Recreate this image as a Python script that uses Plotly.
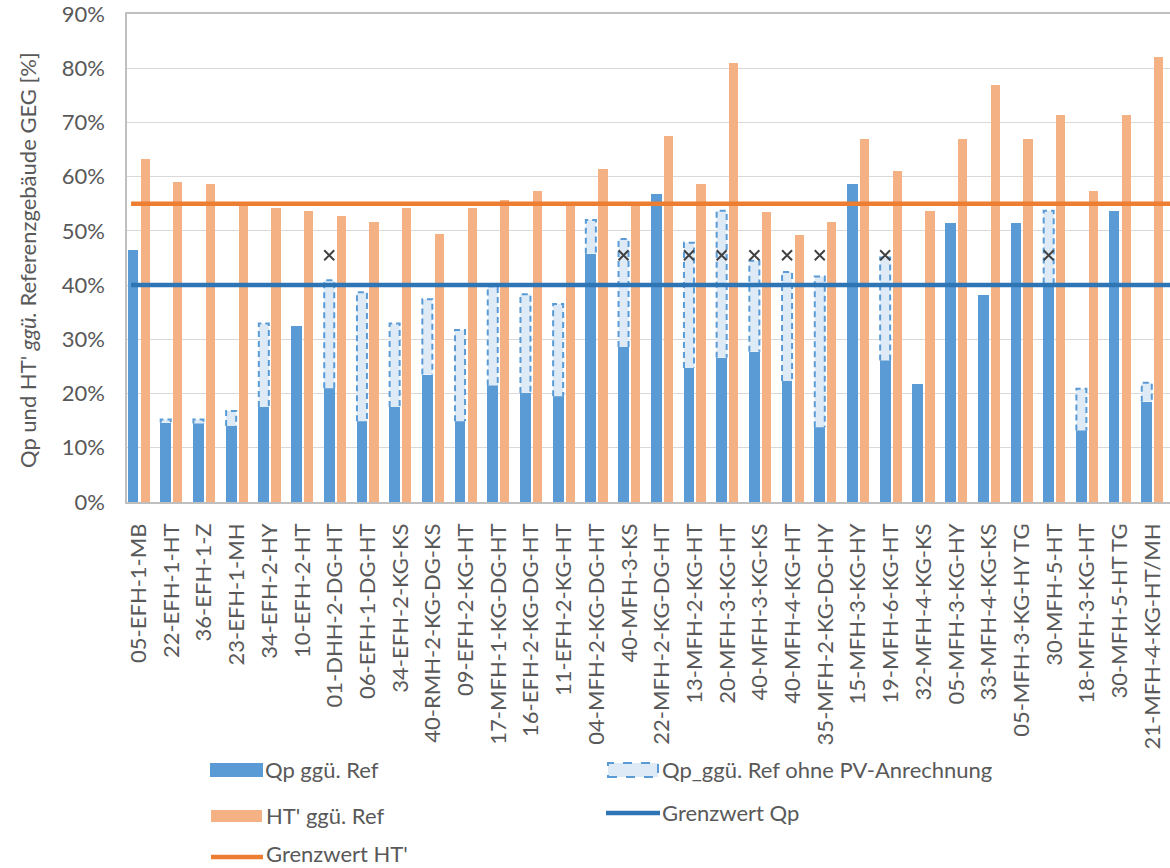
import plotly.graph_objects as go

# ---- data -------------------------------------------------------------
categories = [
    "05-EFH-1-MB", "22-EFH-1-HT", "36-EFH-1-Z", "23-EFH-1-MH", "34-EFH-2-HY",
    "10-EFH-2-HT", "01-DHH-2-DG-HT", "06-EFH-1-DG-HT", "34-EFH-2-KG-KS",
    "40-RMH-2-KG-DG-KS", "09-EFH-2-KG-HT", "17-MFH-1-KG-DG-HT",
    "16-EFH-2-KG-DG-HT", "11-EFH-2-KG-HT", "04-MFH-2-KG-DG-HT", "40-MFH-3-KS",
    "22-MFH-2-KG-DG-HT", "13-MFH-2-KG-HT", "20-MFH-3-KG-HT", "40-MFH-3-KG-KS",
    "40-MFH-4-KG-HT", "35-MFH-2-KG-DG-HY", "15-MFH-3-KG-HY", "19-MFH-6-KG-HT",
    "32-MFH-4-KG-KS", "05-MFH-3-KG-HY", "33-MFH-4-KG-KS", "05-MFH-3-KG-HY TG",
    "30-MFH-5-HT", "18-MFH-3-KG-HT", "30-MFH-5-HT TG", "21-MFH-4-KG-HT/MH",
]

qp_ref = [
    0.464, 0.146, 0.145, 0.140, 0.175, 0.325, 0.210, 0.149, 0.175, 0.235,
    0.149, 0.215, 0.201, 0.195, 0.458, 0.286, 0.568, 0.247, 0.266, 0.277,
    0.223, 0.138, 0.587, 0.261, 0.218, 0.514, 0.381, 0.514, 0.403, 0.132,
    0.537, 0.185,
]

qp_ref_ohne_pv = [
    None, 0.152, 0.152, 0.168, 0.329, None, 0.409, 0.387, 0.329, 0.374,
    0.317, 0.398, 0.383, 0.365, 0.520, 0.485, None, 0.478, 0.537, 0.445,
    0.424, 0.416, None, 0.451, None, None, None, None, 0.537, 0.209,
    None, 0.220,
]

ht_ref = [
    0.632, 0.590, 0.587, 0.546, 0.542, 0.536, 0.528, 0.517, 0.542, 0.495,
    0.542, 0.557, 0.573, 0.546, 0.615, 0.546, 0.675, 0.587, 0.809, 0.535,
    0.492, 0.517, 0.670, 0.611, 0.537, 0.670, 0.769, 0.670, 0.713, 0.573,
    0.713, 0.821,
]

# "x" flags drawn above some Qp bars
x_flag = [
    None, None, None, None, None, None, 0.455, None, None, None,
    None, None, None, None, None, 0.455, None, 0.455, 0.455, 0.455,
    0.455, 0.455, None, 0.455, None, None, None, None, 0.455, None,
    None, None,
]

grenzwert_qp = 0.40
grenzwert_ht = 0.55

y_ticks = [0.0, 0.1, 0.2, 0.3, 0.4, 0.5, 0.6, 0.7, 0.8, 0.9]

# ---- styling -----------------------------------------------------------
FONT = "Lato"
FS = 22
TXT = "#595959"
BLUE = "#5B9BD5"
BLUE_LIGHT = "#DEEBF7"
ORANGE_BAR = "#F4B183"
LINE_BLUE = "#2E75B6"
LINE_ORANGE = "#ED7D31"

W_FIG, H_FIG = 1170, 868
M_L, M_R, M_T, M_B = 127, 0, 14, 366
PW = W_FIG - M_L - M_R
PH = H_FIG - M_T - M_B

# bar geometry in category units
QP_OFF, QP_W = -0.345, 0.33
HT_OFF, HT_W = 0.05, 0.28
X_RANGE = [-0.364, 31.53]


def px(x):
    return (x - M_L) / PW


def py(y):
    return (M_T + PH - y) / PH


idx = list(range(len(categories)))

fig = go.Figure()

# Qp bars
fig.add_trace(go.Bar(
    x=idx, y=qp_ref, offset=QP_OFF, width=QP_W,
    marker=dict(color=BLUE, line=dict(width=0)),
    name="Qp ggü. Ref", showlegend=False,
))

# HT' bars
fig.add_trace(go.Bar(
    x=idx, y=ht_ref, offset=HT_OFF, width=HT_W,
    marker=dict(color=ORANGE_BAR, line=dict(width=0)),
    name="HT' ggü. Ref", showlegend=False,
))

# Qp without PV credit: dashed segment sitting on top of the Qp bar
ox, oy = [], []
for i, (base, top) in enumerate(zip(qp_ref, qp_ref_ohne_pv)):
    if top is None:
        continue
    x0 = i + QP_OFF + 0.012
    x1 = i + QP_OFF + QP_W - 0.012
    ox += [x0, x0, x1, x1, None]
    oy += [base, top, top, base, None]
fig.add_trace(go.Scatter(
    x=ox, y=oy, mode="lines", fill="toself", fillcolor=BLUE_LIGHT,
    line=dict(color=BLUE, width=2, dash="6px,4px"),
    name="Qp_ggü. Ref ohne PV-Anrechnung", showlegend=False,
    hoverinfo="skip",
))

# limit lines
x_line = [-0.24, X_RANGE[1]]
fig.add_trace(go.Scatter(
    x=x_line, y=[grenzwert_qp] * 2, mode="lines",
    line=dict(color=LINE_BLUE, width=4.5), name="Grenzwert Qp",
    showlegend=False,
))
fig.add_trace(go.Scatter(
    x=x_line, y=[grenzwert_ht] * 2, mode="lines",
    line=dict(color=LINE_ORANGE, width=4.5), name="Grenzwert HT'",
    showlegend=False,
))

# "x" flags
fig.add_trace(go.Scatter(
    x=[i + QP_OFF + QP_W / 2 for i in idx], y=x_flag, mode="markers",
    marker=dict(symbol="x-thin", size=10, color="#404040",
                line=dict(color="#404040", width=2)),
    showlegend=False, hoverinfo="skip",
))

# ---- legend drawn below the chart ------------------------------------
shapes = []
annotations = []


def legend_box(x0, x1, y0, y1, fill, line=None, dash=None):
    shapes.append(dict(
        type="rect", xref="paper", yref="paper",
        x0=px(x0), x1=px(x1), y0=py(y1), y1=py(y0),
        fillcolor=fill,
        line=dict(color=line or fill, width=2 if line else 0,
                  dash=dash or "solid"),
        layer="above",
    ))


def legend_line(x0, x1, y, color):
    shapes.append(dict(
        type="line", xref="paper", yref="paper",
        x0=px(x0), x1=px(x1), y0=py(y), y1=py(y),
        line=dict(color=color, width=4.5), layer="above",
    ))


def legend_text(x, y, text):
    annotations.append(dict(
        x=px(x), y=py(y), xref="paper", yref="paper", text=text,
        showarrow=False, xanchor="left", yanchor="middle",
        font=dict(family=FONT, size=FS, color=TXT),
    ))


legend_box(210, 263, 763, 777, BLUE)
legend_text(263, 769, "Qp ggü. Ref")
legend_box(608, 658, 763, 777, BLUE_LIGHT, line=BLUE, dash="dash")
legend_text(660, 769, "Qp_ggü. Ref ohne PV-Anrechnung")
legend_box(211, 262, 810, 822, ORANGE_BAR)
legend_text(264, 815, "HT' ggü. Ref")
legend_line(606, 660, 813, LINE_BLUE)
legend_text(660, 813, "Grenzwert Qp")
legend_line(211, 263, 857, LINE_ORANGE)
legend_text(264, 853, "Grenzwert HT'")

# y axis title
annotations.append(dict(
    x=px(27), y=py(260), xref="paper", yref="paper",
    text="Qp und HT' <i>ggü.</i> Referenzgebäude GEG [%]",
    textangle=-90, showarrow=False, xanchor="center", yanchor="middle",
    font=dict(family=FONT, size=FS, color=TXT),
))

fig.update_layout(
    width=W_FIG, height=H_FIG,
    margin=dict(l=M_L, r=M_R, t=M_T, b=M_B, pad=0),
    paper_bgcolor="white", plot_bgcolor="white",
    barmode="overlay", bargap=0,
    showlegend=False,
    font=dict(family=FONT, size=FS, color=TXT),
    shapes=shapes, annotations=annotations,
    xaxis=dict(
        range=X_RANGE, tickmode="array", tickvals=idx, ticktext=categories,
        tickangle=-90, ticks="", showgrid=False, zeroline=False,
        showline=True, linecolor="#BFBFBF", linewidth=1.5, mirror=True,
        ticklabelstandoff=11, ticklabeloverflow="allow",
        tickfont=dict(family=FONT, size=FS, color=TXT),
    ),
    yaxis=dict(
        range=[0, 0.9], tickmode="array", tickvals=y_ticks, tickformat=".0%",
        ticks="", showgrid=True, gridcolor="#D9D9D9", gridwidth=1,
        zeroline=False, showline=True, linecolor="#BFBFBF", linewidth=1.5,
        ticklabelstandoff=16, ticklabeloverflow="allow",
        tickfont=dict(family=FONT, size=FS, color=TXT),
    ),
)

fig.write_html("out.html")
